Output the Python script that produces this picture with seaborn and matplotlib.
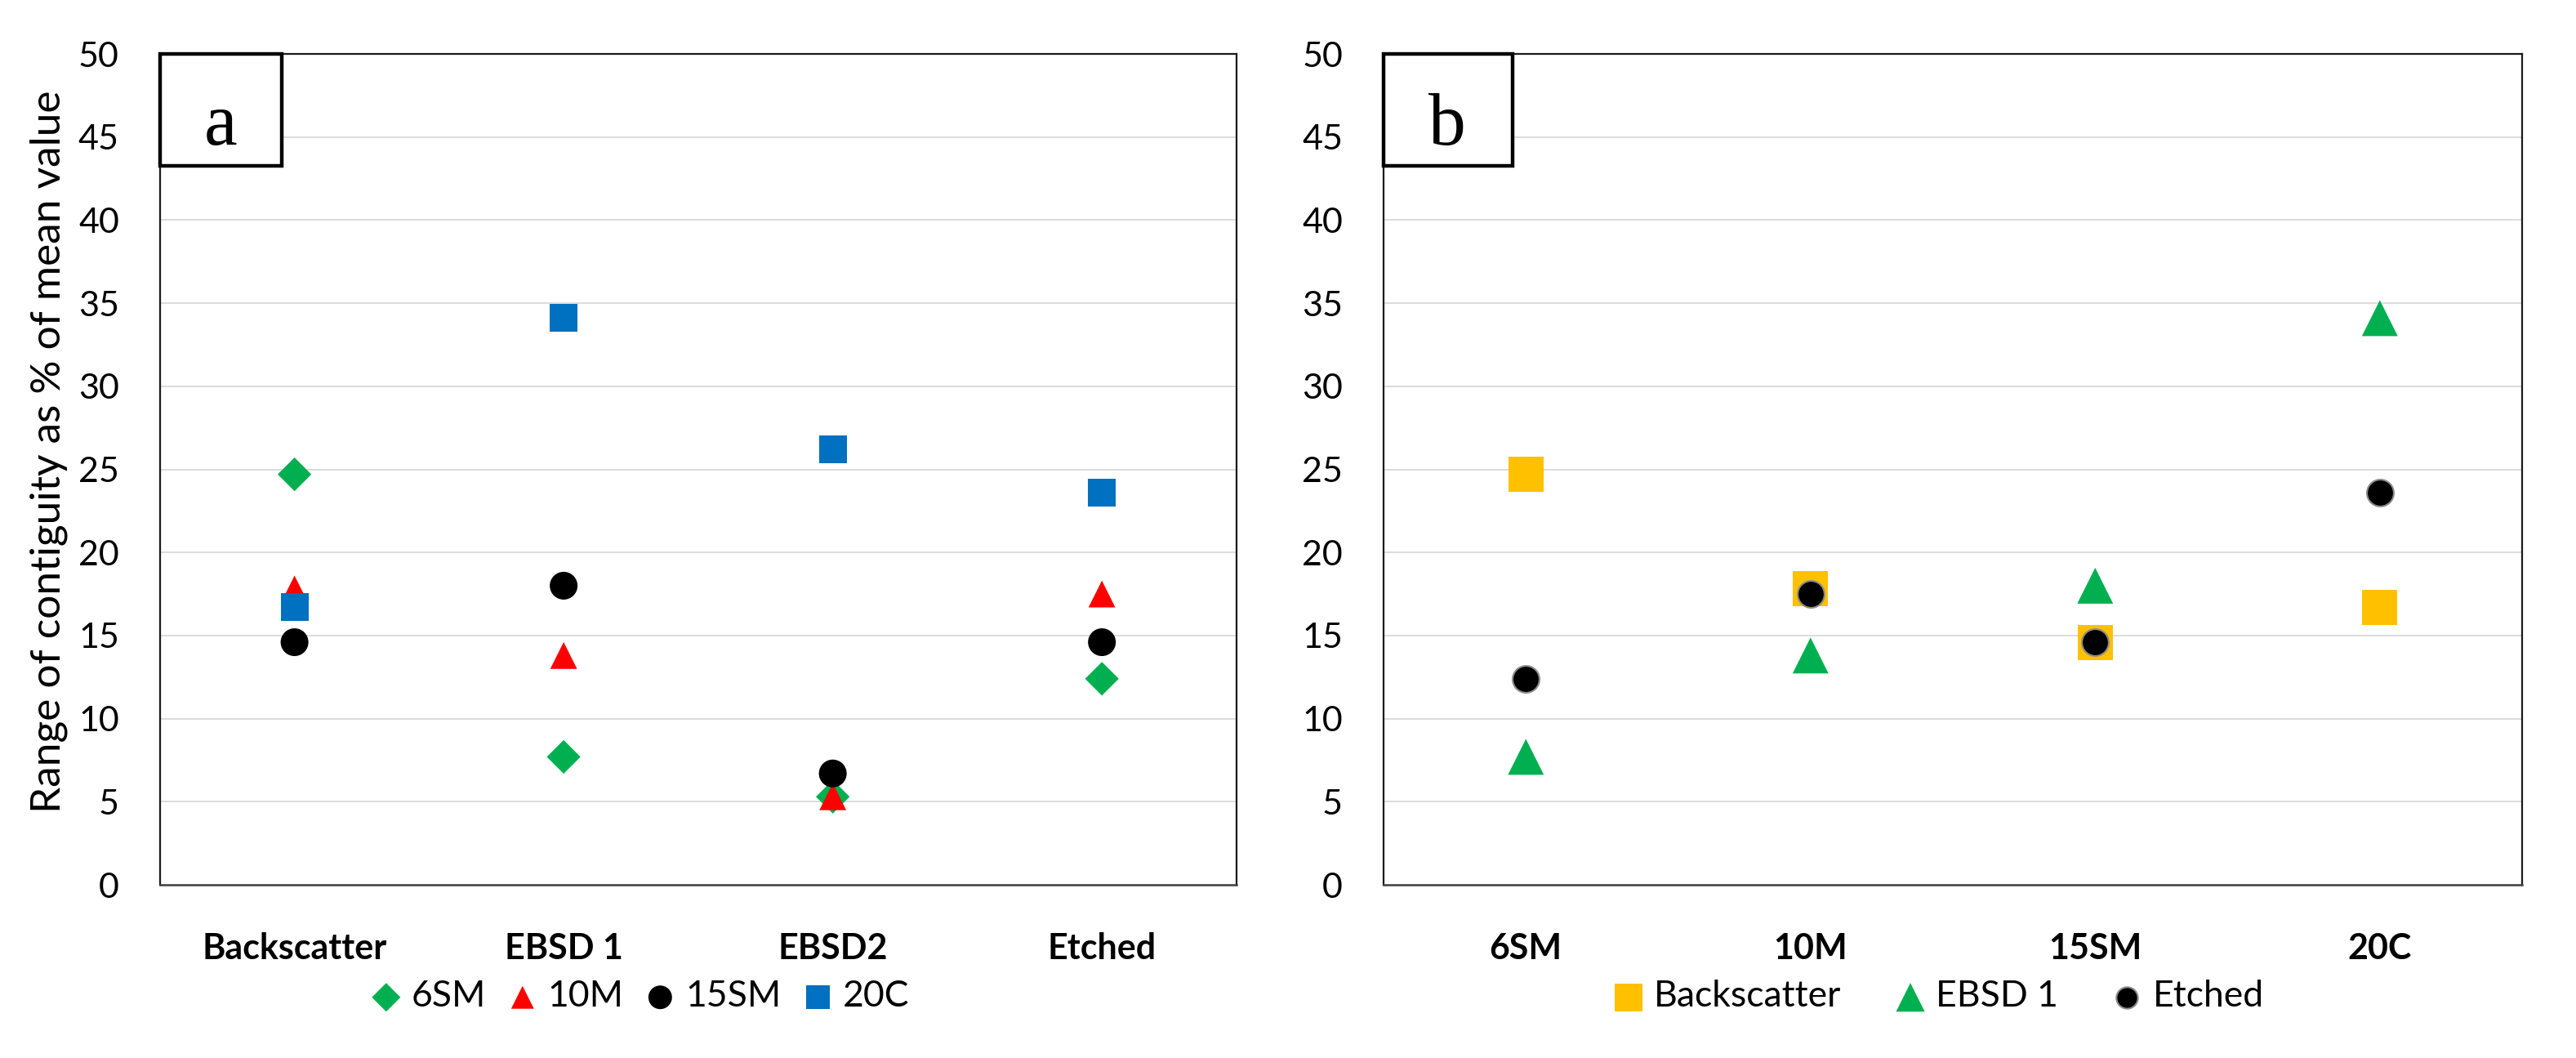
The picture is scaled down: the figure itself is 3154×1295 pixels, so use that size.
import matplotlib
matplotlib.use("Agg")
import matplotlib.pyplot as plt
import seaborn as sns
import pandas as pd
from matplotlib.patches import Rectangle

# categories
methods = ["Backscatter", "EBSD 1", "EBSD2", "Etched"]
grades = ["6SM", "10M", "15SM", "20C"]

# panel a: one series per grade, over the methods
val6SM = [24.7, 7.7, 5.3, 12.4]
val10M = [17.8, 13.8, 5.3, 17.5]
val15SM = [14.6, 18.0, 6.7, 14.6]
val20C = [16.7, 34.1, 26.2, 23.6]

# panel b: one series per method, over the grades
valBackscatter = [24.7, 17.8, 14.6, 16.7]
valEbsd1 = [7.7, 13.8, 18.0, 34.1]
valEtched = [12.4, 17.5, 14.6, 23.6]

yTicks = list(range(0, 51, 5))

sns.set_theme(style="white")
plt.rcParams['font.family'] = ['Lato', 'DejaVu Sans']
plt.rcParams['text.color'] = 'black'
plt.rcParams['xtick.color'] = 'black'
plt.rcParams['ytick.color'] = 'black'

fig = plt.figure(figsize=(31.54, 12.95), dpi=100)
axA = fig.add_axes([0.0621, 0.1637, 0.4179, 0.7853])
axB = fig.add_axes([0.5371, 0.1637, 0.4420, 0.7853])

# (label, values, color, marker, size, edgecolor, edgewidth)
seriesA = [
    ("6SM", val6SM, "#00B050", "D", 441, "none", 0),
    ("10M", val10M, "#FF0000", "^", 560, "none", 0),
    ("15SM", val15SM, "#000000", "o", 600, "none", 0),
    ("20C", val20C, "#0070C0", "s", 600, "none", 0),
]
seriesB = [
    ("Backscatter", valBackscatter, "#FFC000", "s", 960, "none", 0),
    ("EBSD 1", valEbsd1, "#00B050", "^", 1000, "none", 0),
    ("Etched", valEtched, "#000000", "o", 560, "#8C8C8C", 1.5),
]


def drawPanel(ax, cats, series, letter, legendX, colSpace, mScale):
    for name, vals, col, mk, size, ec, ew in series:
        df = pd.DataFrame({"cat": cats, "val": vals})
        sns.scatterplot(data=df, x="cat", y="val", ax=ax, color=col, marker=mk,
                        s=size, edgecolor=ec, linewidth=ew, label=name, zorder=3)

    ax.set_xlim(-0.5, len(cats) - 0.5)
    ax.set_ylim(0, 50)
    ax.set_yticks(yTicks)
    ax.set_yticklabels([str(t) for t in yTicks], fontsize=31)
    ax.set_xticks(range(len(cats)))
    ax.set_xticklabels(cats, fontsize=31, fontweight='bold')
    ax.tick_params(axis='y', length=0, pad=36)
    ax.tick_params(axis='x', length=0, pad=42)
    ax.set_xlabel("")
    ax.set_ylabel("")
    ax.grid(axis='y', color='#D9D9D9', linewidth=1.3)
    ax.set_axisbelow(True)

    for side in ['left', 'top', 'right']:
        ax.spines[side].set_color('#1A1A1A')
        ax.spines[side].set_linewidth(1.6)
    ax.spines['bottom'].set_color('#404040')
    ax.spines['bottom'].set_linewidth(1.8)

    # panel letter box
    box = Rectangle((0, 0.865), 0.113, 0.135, transform=ax.transAxes,
                    facecolor='white', edgecolor='black', linewidth=3.2,
                    clip_on=False, zorder=6)
    ax.add_patch(box)
    ax.text(0.056, 0.891, letter, transform=ax.transAxes, ha='center', va='baseline',
            fontsize=66, family='Liberation Serif', zorder=7)

    handles, labels = ax.get_legend_handles_labels()
    ax.legend(handles, labels, loc='center', bbox_to_anchor=(legendX, 0.058),
              bbox_transform=fig.transFigure, ncol=len(labels), frameon=False,
              fontsize=32, markerscale=mScale, handletextpad=0.2,
              columnspacing=colSpace, handlelength=1.0, borderpad=0)


drawPanel(axA, methods, seriesA, "a", 0.248, 0.5, 0.85)
drawPanel(axB, grades, seriesB, "b", 0.752, 1.4, 0.8)

fig.text(60 / 3154, 1 - 553 / 1295, "Range of contiguity as % of mean value",
         rotation=90, ha='center', va='center', fontsize=37)

plt.savefig("out.png", dpi=100)
plt.close()
